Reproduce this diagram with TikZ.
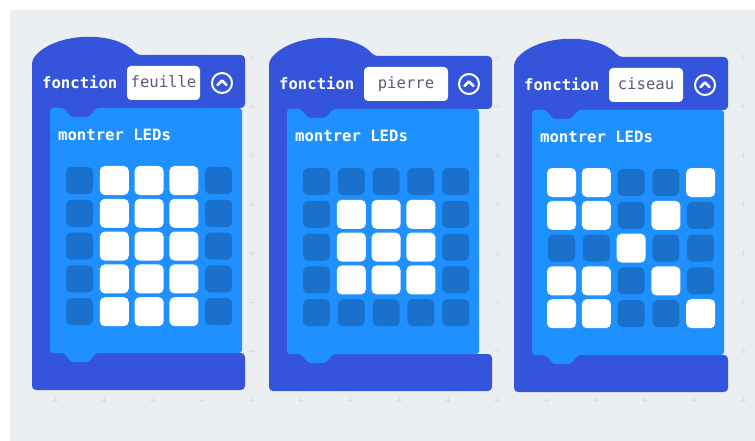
\documentclass[tikz,border=0pt]{standalone}
\usepackage{fontspec}
\usepackage{tikz}

\newfontfamily\blockfont{DejaVu Sans Mono}

\definecolor{canvas}{HTML}{ECEFF1}
\definecolor{gridmark}{HTML}{DADEE2}
\definecolor{fnblue}{HTML}{3455DB}
\definecolor{basicblue}{HTML}{1E90FF}
\definecolor{dimled}{HTML}{1971CC}
\definecolor{fieldgray}{HTML}{575E75}

\tikzset{
	blocktext/.style={font=\blockfont\bfseries\fontsize{15.6}{18}\selectfont, text=white, anchor=west, inner sep=0pt},
	fieldbox/.style={fill=white, rounded corners=4pt, minimum height=34pt, inner sep=0pt, text height=11pt, text depth=2pt, font=\blockfont\fontsize{15.6}{18}\selectfont, text=fieldgray},
	ledoff/.style={rectangle, rounded corners=5pt, fill=dimled, minimum size=27pt, inner sep=0pt},
	ledon/.style={ledoff, fill=white, minimum size=29pt},
}

\begin{document}
\begin{tikzpicture}[x=1pt, y=-1pt]
			\useasboundingbox (0,0) rectangle (755,441);
			\fill[white] (0,0) rectangle (755,441);
			\fill[canvas] (10,10) rectangle (755,441);
			% Workspace marks
			\foreach \i in {0,...,14} {
				\foreach \j in {0,...,7} {
					\draw[gridmark, line width=0.8pt] ({52+49.15*\i},{57+49*\j}) -- ++(6,0) ({55+49.15*\i},{54+49*\j}) -- ++(0,6);
				}
			}
			% Blocks
			\foreach \bx/\by/\hw/\fw/\fname/\id in {32/0/213/73/feuille/f, 269/1/223/84/pierre/p, 514/2/214/74/ciseau/c} {
				\begin{scope}[shift={(\bx,\by)}]
					\fill[fnblue, rounded corners=4pt] (0,60) .. controls (22,32) and (83,30) .. (105,55) -- (\hw,55) -- (\hw,108) -- (18,108) -- (18,353) -- (\hw,353) -- (\hw,390) -- (0,390) -- cycle;
					\fill[fnblue] (18,100) rectangle (70,125);
					\fill[basicblue, rounded corners=3pt] (18,108) -- (32,108) -- (39,117) -- (57,117) -- (64,108) -- (210,108) -- (210,353) -- (64,353) -- (57,362) -- (39,362) -- (32,353) -- (18,353) -- cycle;
					\node[blocktext] (\id-head) at (10,82) {fonction};
					\node[fieldbox, minimum width={\fw*1pt}] (\id-field) at ({95+\fw/2},83) {\fname};
					\node[circle, draw=white, line width=2pt, minimum size=20pt, inner sep=0pt] (\id-toggle) at ({\hw-23},83) {};
					\draw[white, line width=2.5pt, line cap=round, line join=round] ([shift={(-4.5,2)}]\id-toggle.center) -- ([shift={(0,-2.5)}]\id-toggle.center) -- ([shift={(4.5,2)}]\id-toggle.center);
					\node[blocktext] (\id-show) at (26,135) {montrer LEDs};
					\foreach \c in {1,...,5} {
						\foreach \r in {1,...,5} {
							\node[ledoff] (\id-\r-\c) at ({47.5+34.8*(\c-1)},{180.5+32.8*(\r-1)}) {};
						}
					}
				\end{scope}
			}
			% Lit LEDs
			\foreach \r in {1,...,5} {
				\foreach \c in {2,3,4} {
					\node[ledon] (f-on-\r-\c) at (f-\r-\c) {};
				}
			}
			\foreach \r in {2,3,4} {
				\foreach \c in {2,3,4} {
					\node[ledon] (p-on-\r-\c) at (p-\r-\c) {};
				}
			}
			\foreach \r/\c in {1/1,1/2,1/5,2/1,2/2,2/4,3/3,4/1,4/2,4/4,5/1,5/2,5/5} {
				\node[ledon] (c-on-\r-\c) at (c-\r-\c) {};
			}
		\end{tikzpicture}
\end{document}
